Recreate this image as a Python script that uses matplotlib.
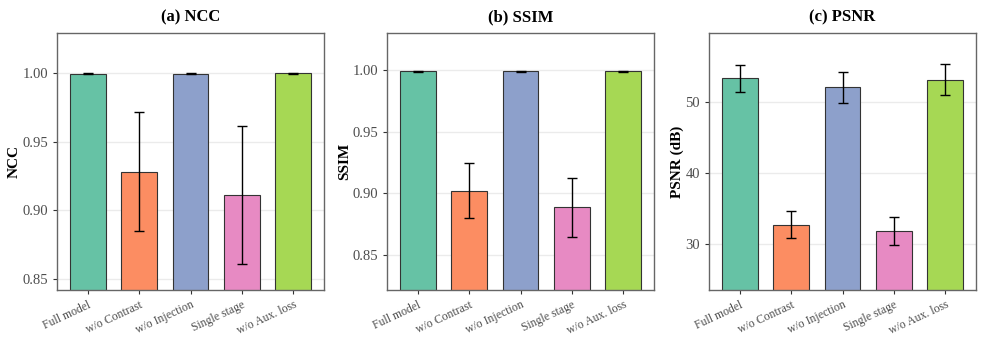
import matplotlib
matplotlib.use("Agg")
import matplotlib.pyplot as plt
import numpy as np

plt.rcParams["font.family"] = ["Liberation Serif", "DejaVu Serif"]

variants = ["Full model", "w/o Contrast", "w/o Injection", "Single stage", "w/o Aux. loss"]
colors = ["#66C2A5", "#FC8D62", "#8DA0CB", "#E78AC3", "#A6D854"]

ncc_mean = [0.9995, 0.928, 0.9993, 0.9112, 0.9996]
ncc_sd = [0.0003, 0.0434, 0.0003, 0.0500, 0.0002]
ssim_mean = [0.9989, 0.9021, 0.9989, 0.8885, 0.9990]
ssim_sd = [0.0003, 0.0222, 0.0003, 0.0241, 0.0003]
psnr_mean = [53.4, 32.7, 52.1, 31.8, 53.2]
psnr_sd = [1.9, 1.9, 2.2, 2.0, 2.2]

panels = [
    ("(a) NCC", "NCC", ncc_mean, ncc_sd, (0.842, 1.029), [0.85, 0.90, 0.95, 1.00], "{:.2f}"),
    ("(b) SSIM", "SSIM", ssim_mean, ssim_sd, (0.8214, 1.030), [0.85, 0.90, 0.95, 1.00], "{:.2f}"),
    ("(c) PSNR", "PSNR (dB)", psnr_mean, psnr_sd, (23.45, 59.8), [30, 40, 50], "{:.0f}"),
]

fig = plt.figure(figsize=(9.96, 3.44), dpi=100)
lefts = [57, 387, 709]
rights = [324, 654, 976]
W, H = 996, 344
top, bottom = 33, 290

x = np.arange(len(variants))
for (title, ylab, m, sd, ylim, ticks, fmt), l, r in zip(panels, lefts, rights):
    ax = fig.add_axes([l / W, 1 - bottom / H, (r - l) / W, (bottom - top) / H])
    ax.bar(x, m, width=0.7, color=colors, edgecolor="#333333", linewidth=0.8, zorder=2)
    ax.errorbar(x, m, yerr=sd, fmt="none", ecolor="black", elinewidth=1.0,
                capsize=3.9, capthick=1.0, zorder=3)
    ax.set_xlim(-0.6, 4.6)
    ax.set_ylim(*ylim)
    ax.set_yticks(ticks)
    ax.set_yticklabels([fmt.format(t) for t in ticks])
    ax.grid(axis="y", color="#EBEBEB", linewidth=1.0, zorder=0)
    ax.set_axisbelow(True)
    ax.set_xticks(x)
    ax.set_xticklabels(variants, rotation=25, ha="right", rotation_mode="anchor")
    ax.tick_params(axis="both", colors="#333333", labelcolor="#4D4D4D", labelsize=10.5,
                   length=3, width=0.8)
    ax.tick_params(axis="x", labelsize=8.5)
    for s in ax.spines.values():
        s.set_color("#666666")
        s.set_linewidth(1.0)
    ax.set_ylabel(ylab, fontsize=11, fontweight="bold", labelpad=1)
    ax.set_title(title, fontsize=12, fontweight="bold", pad=8)

plt.savefig("out.png", dpi=100)
